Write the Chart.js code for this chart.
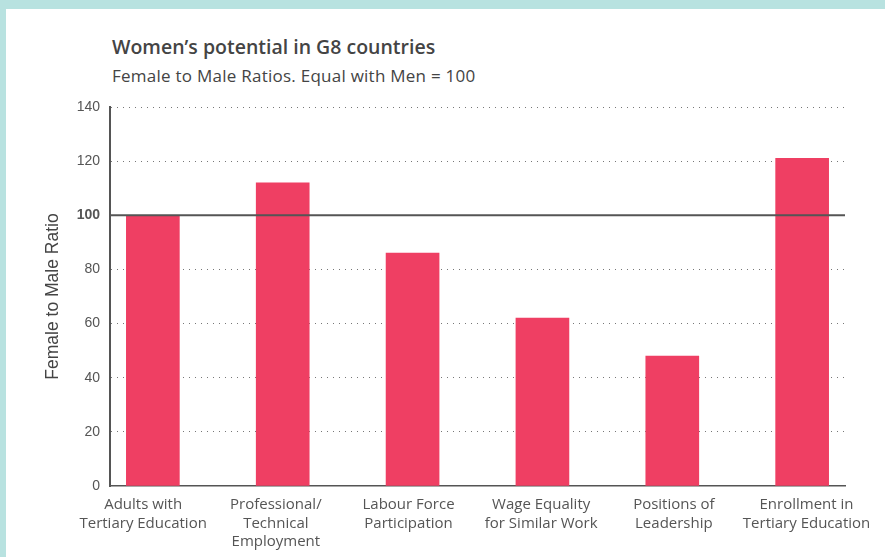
<!DOCTYPE html>
<html>
<head>
<meta charset="utf-8">
<script src="https://cdn.jsdelivr.net/npm/chart.js@4"></script>
<style>
  html, body { margin: 0; padding: 0; }
  body { width: 885px; height: 557px; background: #b8e2e0; position: relative; overflow: hidden; font-family: "Open Sans", "Noto Sans", sans-serif; }
  .panel { position: absolute; left: 6px; top: 9px; right: 0; bottom: 0; background: #fff; }
  .title { position: absolute; left: 112px; top: 35px; font-size: 19.5px; line-height: 24px; font-weight: 600; color: #444; white-space: nowrap; }
  .subtitle { position: absolute; left: 112px; top: 66px; font-size: 17px; line-height: 20px; letter-spacing: 0.25px; color: #444; white-space: nowrap; }
  canvas { position: absolute; left: 0; top: 0; }
</style>
</head>
<body>
<div class="panel"></div>
<div class="title">Women’s potential in G8 countries</div>
<div class="subtitle">Female to Male Ratios. Equal with Men = 100</div>
<canvas id="c" width="885" height="557"></canvas>
<script>
const categories = [
  ["Adults with", "Tertiary Education"],
  ["Professional/", "Technical", "Employment"],
  ["Labour Force", "Participation"],
  ["Wage Equality", "for Similar Work"],
  ["Positions of", "Leadership"],
  ["Enrollment in", "Tertiary Education"]
];
const ratios = [100, 112, 86, 62, 48, 121];
const yTicks = [0, 20, 40, 60, 80, 100, 120, 140];
const equalLine = 100;

const points = ratios.map((v, i) => ({ x: i, y: v }));

const equalityLine = {
  id: 'equalityLine',
  afterDatasetsDraw(chart) {
    const { ctx, chartArea, scales } = chart;
    const y = scales.y.getPixelForValue(equalLine);
    ctx.save();
    ctx.strokeStyle = '#555';
    ctx.lineWidth = 2;
    ctx.beginPath();
    ctx.moveTo(chartArea.left, y);
    ctx.lineTo(chartArea.right, y);
    ctx.stroke();
    ctx.restore();
  }
};

new Chart(document.getElementById('c'), {
  type: 'bar',
  data: {
    datasets: [{
      data: points,
      backgroundColor: '#ef3f63',
      borderWidth: 0,
      barThickness: 53
    }]
  },
  plugins: [equalityLine],
  options: {
    responsive: false,
    animation: false,
    layout: { padding: { left: 40, right: 40, top: 107, bottom: 6 } },
    plugins: { legend: { display: false }, tooltip: { enabled: false }, title: { display: false } },
    scales: {
      x: {
        type: 'linear',
        display: false,
        offset: false,
        min: -0.33,
        max: 5.33
      },
      xLabels: {
        type: 'linear',
        position: 'bottom',
        axis: 'x',
        offset: false,
        min: -0.25,
        max: 5.29,
        afterFit(s) { s.height = 65; },
        afterBuildTicks(s) { s.ticks = categories.map((_, i) => ({ value: i })); },
        grid: { display: false, drawTicks: false, offset: false },
        border: { display: true, color: '#555', width: 1.5 },
        ticks: {
          autoSkip: false,
          maxRotation: 0,
          padding: 10,
          color: '#555',
          font: { family: '"Open Sans", "Noto Sans", sans-serif', size: 15, lineHeight: 1.23 },
          callback: (v) => categories[v] || ''
        }
      },
      y: {
        min: 0,
        max: 140,
        afterFit(s) { s.width = 70; },
        afterBuildTicks(s) { s.ticks = yTicks.map(v => ({ value: v })); },
        grid: {
          drawTicks: false,
          color: (c) => (c.tick && (c.tick.value === 0 || c.tick.value === equalLine)) ? 'rgba(0,0,0,0)' : '#777',
          lineWidth: 1
        },
        border: { display: true, color: '#555', width: 2, dash: [1, 5] },
        ticks: {
          padding: 10,
          color: '#555',
          font: (c) => ({ family: '"Liberation Sans", Arial, sans-serif', size: 14, weight: (c.tick && c.tick.value === equalLine) ? 'bold' : 'normal' })
        },
        title: {
          display: true,
          text: 'Female to Male Ratio',
          color: '#444',
          padding: { top: 4, bottom: 4 },
          font: { family: '"Liberation Sans", Arial, sans-serif', size: 17.5, lineHeight: 1.05 }
        }
      }
    }
  }
});
</script>
</body>
</html>
